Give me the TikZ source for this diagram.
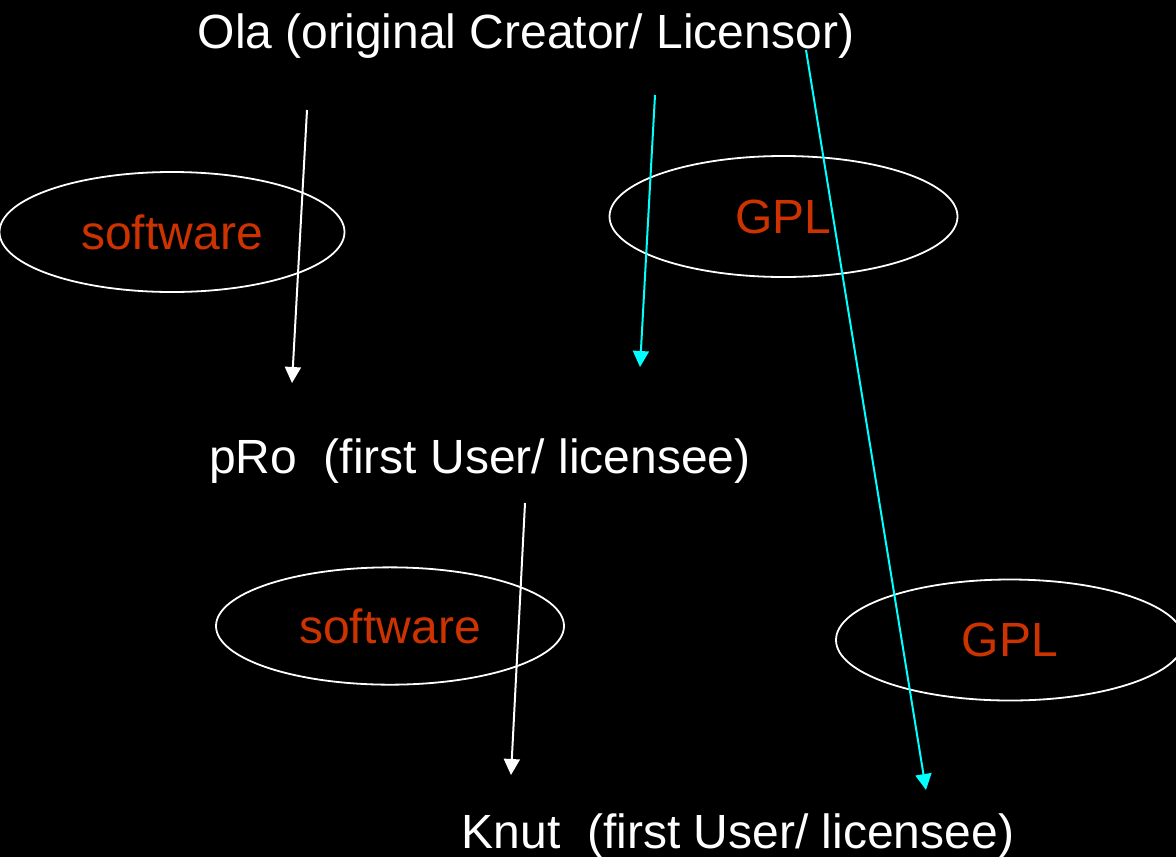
\documentclass[tikz,border=0pt]{standalone}
\usepackage{fontspec}
\setmainfont{Liberation Sans}
\usetikzlibrary{shapes.geometric,arrows.meta}
\definecolor{lblorange}{HTML}{CC3300}
\definecolor{lnkcyan}{HTML}{00FFFF}
\tikzset{
  bigtext/.style={text=white,font=\fontsize{36}{43}\selectfont,inner sep=0pt,anchor=base},
  oval/.style={ellipse,draw=white,line width=1.35pt,text=lblorange,font=\fontsize{36}{43}\selectfont,inner sep=0pt},
  whitearrow/.style={draw=white,line width=1.5pt,-{Triangle[width=12pt,length=12pt]}},
  cyanarrow/.style={draw=lnkcyan,line width=1.5pt,-{Triangle[width=12pt,length=12pt]}}
}
\begin{document}
\begin{tikzpicture}[x=0.75pt,y=-0.75pt]
\useasboundingbox (0,0) rectangle (1176,857);
\fill[black] (0,0) rectangle (1176,857);
\node[bigtext] (ola) at (526,48) {Ola (original Creator/ Licensor)};
\node[bigtext] (pro) at (480,473) {pRo\ \ (first User/ licensee)};
\node[bigtext] (knut) at (738,848) {Knut\ \ (first User/ licensee)};
\node[oval,minimum width=258.75pt,minimum height=90pt] (sw1) at (172,232) {software};
\node[oval,minimum width=261pt,minimum height=90.75pt] (gpl1) at (783.5,216.5) {GPL};
\node[oval,minimum width=261pt,minimum height=88pt] (sw2) at (390,626) {software};
\node[oval,minimum width=261pt,minimum height=90.75pt] (gpl2) at (1010,640) {GPL};
\coordinate (a1s) at (307,110);
\coordinate (a1e) at (292,383);
\coordinate (a2s) at (655,95);
\coordinate (a2e) at (640,367);
\coordinate (a3s) at (525,503);
\coordinate (a3e) at (511,775);
\coordinate (a4s) at (806,50);
\coordinate (a4e) at (926,790);
\draw[whitearrow] (a1s) -- (a1e);
\draw[cyanarrow] (a2s) -- (a2e);
\draw[whitearrow] (a3s) -- (a3e);
\draw[cyanarrow] (a4s) -- (a4e);
\end{tikzpicture}
\end{document}
